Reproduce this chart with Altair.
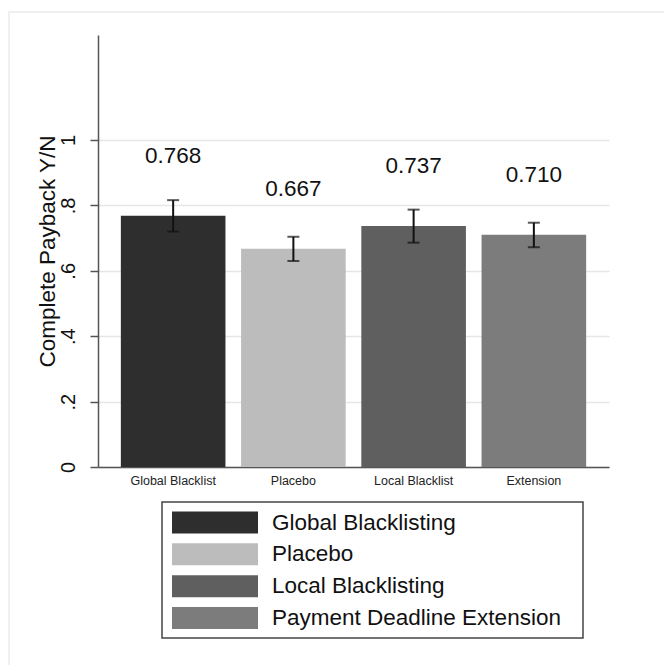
import altair as alt
import pandas as pd

categories = ["Global Blacklist", "Placebo", "Local Blacklist", "Extension"]
legend_names = ["Global Blacklisting", "Placebo", "Local Blacklisting", "Payment Deadline Extension"]
means = [0.768, 0.667, 0.737, 0.710]
ci_low = [0.720, 0.630, 0.686, 0.672]
ci_high = [0.816, 0.704, 0.787, 0.747]
colors = ["#2e2e2e", "#bcbcbc", "#5f5f5f", "#7c7c7c"]
y_ticks = [0, 0.2, 0.4, 0.6, 0.8, 1.0]

df = pd.DataFrame({
    "cat": categories,
    "group": legend_names,
    "mean": means,
    "lo": ci_low,
    "hi": ci_high,
    "label": [f"{m:.3f}" for m in means],
})

FONT = "Liberation Sans"

x_enc = alt.X(
    "cat:N", sort=categories, title=None,
    scale=alt.Scale(paddingInner=0.13, paddingOuter=0.19),
    axis=alt.Axis(labelAngle=0, labelFontSize=12.5, labelColor="#222", labelFont=FONT,
                  ticks=False, domainColor="#555", domainWidth=1.5, labelPadding=7,
                  grid=False),
)
y_scale = alt.Scale(domain=[0, 1.321], nice=False, zero=True)
color_enc = alt.Color("group:N", sort=legend_names,
                      scale=alt.Scale(domain=legend_names, range=colors),
                      legend=None)

base = alt.Chart(df)

frame = base.mark_rect(fill=None, stroke="#ececec", strokeWidth=1.5).encode(
    x=alt.value(-89), x2=alt.value(640), y=alt.value(-23), y2=alt.value(700)
).transform_filter("datum.cat == 'Placebo'")

bars = base.mark_bar(stroke=None).encode(
    x=x_enc,
    y=alt.Y("mean:Q", scale=y_scale, title="Complete Payback Y/N",
            axis=alt.Axis(values=y_ticks,
                          labelExpr="datum.value == 0 ? '0' : (datum.value == 1 ? '1' : replace(format(datum.value, '.1f'), '0.', '.'))",
                          labelAngle=270, labelAlign="center", labelBaseline="bottom",
                          labelFontSize=20, labelFont=FONT, labelColor="#111",
                          labelPadding=12,
                          tickSize=8, tickColor="#555", tickWidth=1.5,
                          domainColor="#555", domainWidth=1.5,
                          grid=True, gridColor="#e6e6e6", gridWidth=1.5,
                          titleFontSize=22.5, titleFont=FONT, titleFontWeight="normal",
                          titleColor="#111", titlePadding=-1)),
    color=color_enc,
)

rules = base.mark_rule(color="#111", strokeWidth=2).encode(
    x=alt.X("cat:N", sort=categories), y="lo:Q", y2="hi:Q"
)
cap_lo = base.mark_tick(color="#111", thickness=2, size=12).encode(
    x=alt.X("cat:N", sort=categories), y="lo:Q"
)
cap_hi = base.mark_tick(color="#111", thickness=2, size=12).encode(
    x=alt.X("cat:N", sort=categories), y="hi:Q"
)
labels = base.mark_text(fontSize=22.5, font=FONT, color="#111", dy=-60, baseline="middle").encode(
    x=alt.X("cat:N", sort=categories), y="mean:Q", text="label:N"
)

main = alt.layer(frame, bars, rules, cap_lo, cap_hi, labels)

# legend built as marks
leg_y = alt.Y("group:N", sort=legend_names,
              scale=alt.Scale(type="point", domain=legend_names, range=[487.5, 583], padding=0),
              axis=None)
leg_box = base.mark_rect(fill="white", stroke="#444", strokeWidth=1.5).encode(
    x=alt.value(64), x2=alt.value(485), y=alt.value(467), y2=alt.value(603)
).transform_filter("datum.cat == 'Placebo'")
leg_sw = base.mark_point(shape="M-1,-0.256H1V0.256H-1Z", size=7396, filled=True,
                         opacity=1, strokeWidth=0).encode(
    x=alt.value(117), y=leg_y, color=color_enc
)
leg_txt = base.mark_text(fontSize=22.5, font=FONT, color="#111", align="left",
                         baseline="middle").encode(
    x=alt.value(174), y=leg_y, text="group:N"
)
legend = alt.layer(leg_box, leg_sw, leg_txt)

chart = alt.layer(main, legend).resolve_scale(y="independent").properties(
    width=511, height=432,
    autosize=alt.AutoSizeParams(type="none"),
    padding={"left": 98, "top": 35, "right": 55, "bottom": 198},
).configure(background="white").configure_view(strokeWidth=0, stroke="transparent")

chart.save("out.html", embed_options={"renderer": "svg", "actions": False})
